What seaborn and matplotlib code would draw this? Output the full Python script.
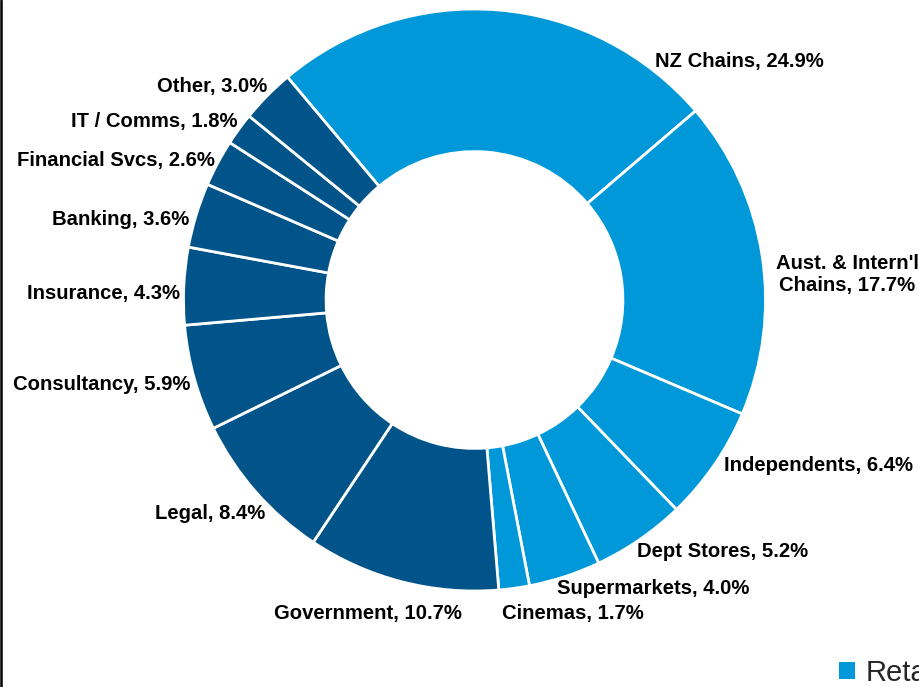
import matplotlib
matplotlib.use("Agg")
import matplotlib.pyplot as plt
from matplotlib.lines import Line2D
from matplotlib.patches import Patch
import seaborn as sns

# Share of sectors, grouped into retail and services
categories = ["NZ Chains", "Aust. & Intern'l\nChains", "Independents", "Dept Stores",
              "Supermarkets", "Cinemas", "Government", "Legal", "Consultancy",
              "Insurance", "Banking", "Financial Svcs", "IT / Comms", "Other"]
shares = [24.9, 17.7, 6.4, 5.2, 4.0, 1.7, 10.7, 8.4, 5.9, 4.3, 3.6, 2.6, 1.8, 3.0]
groups = ["Retail"] * 6 + ["Services"] * 8

group_colors = {"Retail": "#0098D8", "Services": "#00548A"}

# Label anchor points (in units of the outer radius) and horizontal alignment
label_layout = [
    (0.620, 0.818, "left"), (1.280, 0.089, "center"), (0.857, -0.570, "left"),
    (0.558, -0.863, "left"), (0.284, -0.993, "left"), (0.0945, -1.079, "left"),
    (-0.043, -1.076, "right"), (-0.720, -0.735, "right"), (-0.978, -0.289, "right"),
    (-1.012, 0.024, "right"), (-0.981, 0.278, "right"), (-0.892, 0.478, "right"),
    (-0.816, 0.612, "right"), (-0.713, 0.732, "right"),
]

sns.set_theme(style="white")
plt.rcParams["font.family"] = ["Liberation Sans", "DejaVu Sans"]

W, H, DPI = 920, 687, 100
fig = plt.figure(figsize=(W / DPI, H / DPI), dpi=DPI)
ax = fig.add_axes([0, 0, 1, 1])

R_PX = 291.0
CX, CY = 474.5, 300.0

colors = [group_colors[g] for g in groups]
ax.pie(shares, colors=colors, startangle=130, counterclock=False, radius=1.0,
       wedgeprops=dict(width=0.49, edgecolor="white", linewidth=2.0))

for cat, val, (lx, ly, ha) in zip(categories, shares, label_layout):
    ax.text(lx, ly, f"{cat}, {val:.1f}%", ha=ha, va="center", multialignment="center",
            fontsize=14.6, fontweight="bold", color="black", linespacing=1.2)

ax.set_xlim(-CX / R_PX, (W - CX) / R_PX)
ax.set_ylim(-(H - CY) / R_PX, CY / R_PX)
ax.set_aspect("auto")
ax.axis("off")

# Group legend at the lower right
handles = [Patch(facecolor=group_colors["Retail"], edgecolor="none", label="Retail")]
fig.legend(handles=handles, loc="center left", bbox_to_anchor=(839 / W, (H - 673) / H),
           frameon=False, fontsize=21, handlelength=0.55, handleheight=0.55,
           handletextpad=0.38, borderpad=0, borderaxespad=0)

# Left border rule
fig.add_artist(Line2D([1.2 / W, 1.2 / W], [0, 1], transform=fig.transFigure,
                      color="black", linewidth=1.8))

fig.savefig("out.png", dpi=DPI)
